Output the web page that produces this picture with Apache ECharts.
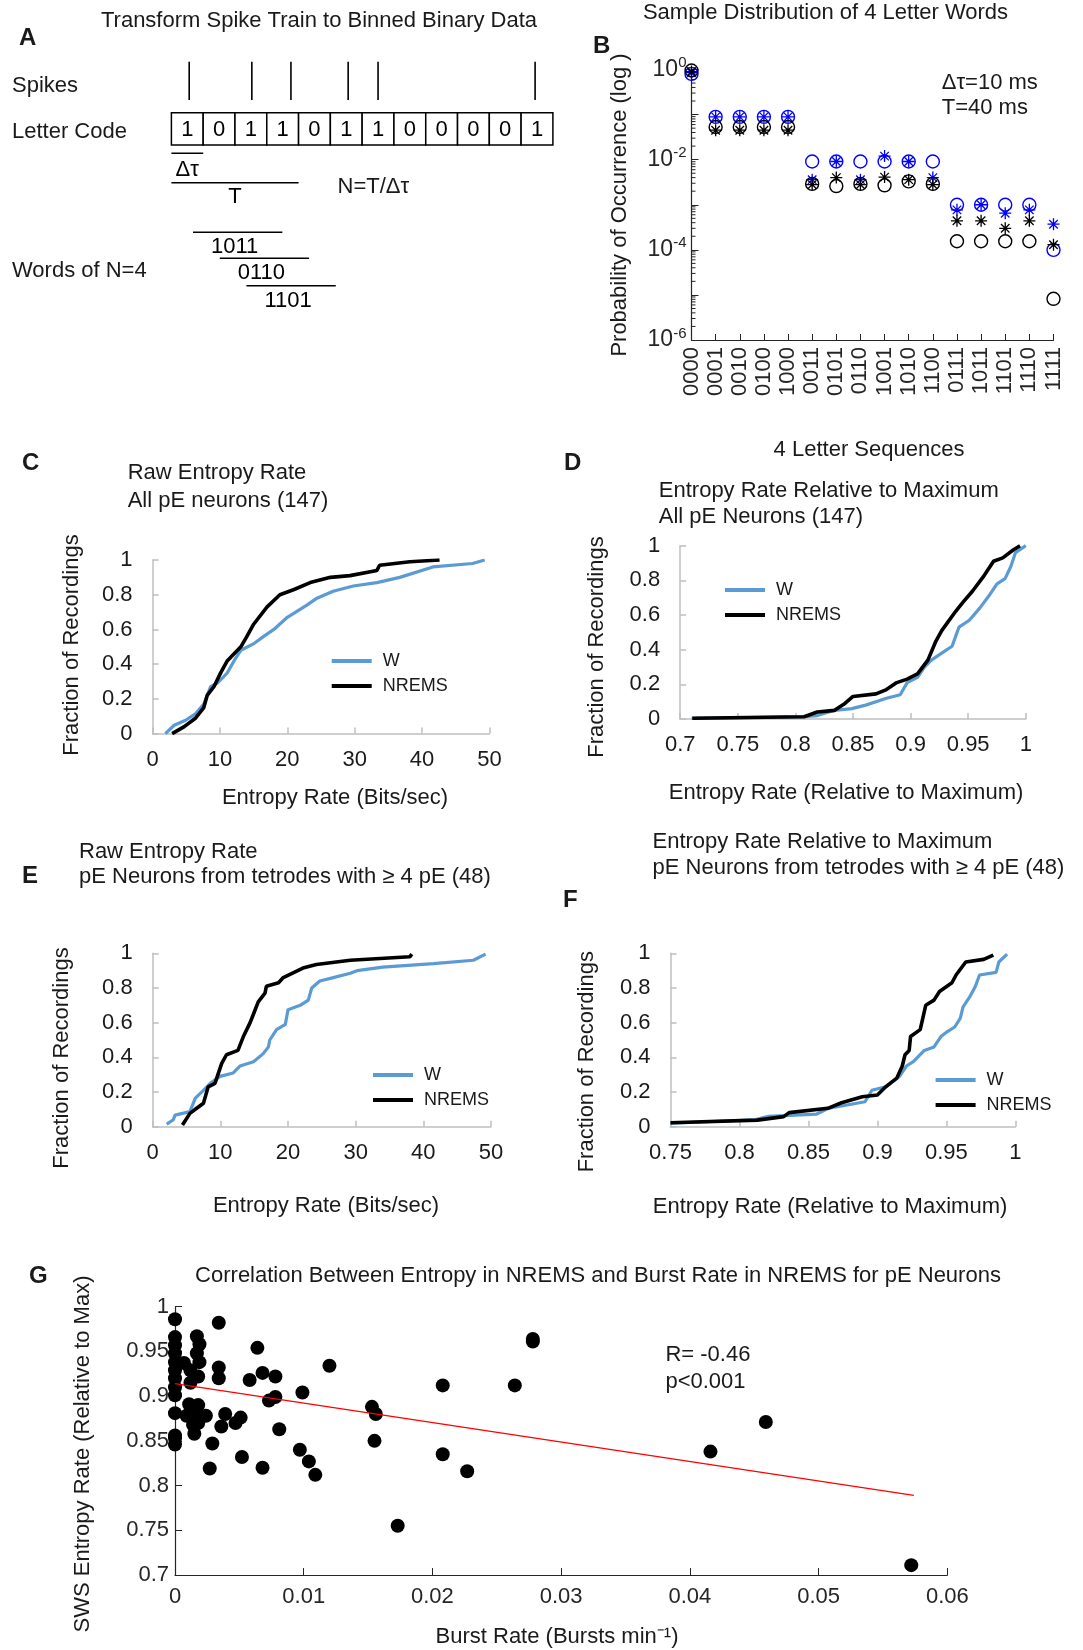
<!DOCTYPE html>
<html>
<head>
<meta charset="utf-8">
<script src="https://cdn.jsdelivr.net/npm/echarts@6/dist/echarts.min.js"></script>
<style>
html,body{margin:0;padding:0;background:#fff;}
#chart{width:1083px;height:1650px;}
</style>
</head>
<body>
<div id="chart"></div>
<script>
// ---------------- DATA ----------------
// Panel A: schematic (units of bins, Δτ = 1 bin)
const letterCode = [1,0,1,1,0,1,1,0,0,0,0,1];
const spikeTimes = [0.56, 2.53, 3.76, 5.56, 6.5, 11.44];
const binWidth = 1;          // Δτ
const wordLen = 4;           // T = N·Δτ
const words = ['1011','0110','1101'];
const wordStarts = [0.68, 1.52, 2.36];
const wordSpan = 2.81;

// Panel B: sample distribution of 4-letter words
const wordCats = ['0000','0001','0010','0100','1000','0011','0101','0110','1001','1010','1100','0111','1011','1101','1110','1111'];
const wCircle = [0.80, 0.089,0.089,0.089,0.089, 0.0091,0.0091,0.0091,0.0091,0.0091,0.0091, 0.001,0.001,0.001,0.001, 0.0001];
const wStar   = [0.85, 0.089,0.089,0.089,0.089, 0.0036,0.0091,0.0036,0.012,0.0091,0.004, 0.00077,0.001,0.00065,0.00077, 0.00037];
const nCircle = [0.95, 0.053,0.053,0.053,0.053, 0.0029,0.0026,0.0029,0.0027,0.0033,0.0029, 0.000155,0.000155,0.000155,0.000155, 0.0000082];
const nStar   = [0.90, 0.045,0.045,0.045,0.045, 0.0028,0.004,0.0028,0.0041,0.0036,0.0028, 0.00044,0.00044,0.0003,0.00044, 0.00013];
const logDecades = [-6,-5,-4,-3,-2,-1];
const logMinorSteps = [2,3,4,5,6,7,8,9];

// Panel C: raw entropy rate, all pE (147)
const cW = [[1.9,0],[3.2,0.048],[4.9,0.077],[6.4,0.115],[7.6,0.17],[8.6,0.27],[9.6,0.29],[11.1,0.35],[12.1,0.42],[13.1,0.48],[15.1,0.52],[16.5,0.56],[18,0.6],[20,0.67],[22.9,0.74],[24.4,0.78],[26.8,0.82],[29.8,0.85],[33.3,0.87],[36.7,0.9],[41.6,0.96],[47.5,0.98],[49.3,1]];
const cN = [[2.9,0],[4.7,0.04],[6.4,0.09],[7.6,0.15],[8.1,0.22],[9.1,0.27],[10.1,0.35],[11.1,0.42],[12.1,0.46],[13.1,0.5],[14,0.56],[15,0.63],[17,0.73],[18.9,0.8],[21,0.83],[23.4,0.87],[26.4,0.9],[29.3,0.91],[33.3,0.94],[33.7,0.97],[38.2,0.99],[42.6,1]];

// Panel D: relative entropy rate, all pE (147)
const dW = [[0.71,0.004],[0.8075,0.013],[0.819,0.02],[0.834,0.05],[0.849,0.06],[0.861,0.08],[0.87,0.1],[0.879,0.12],[0.891,0.14],[0.897,0.21],[0.906,0.24],[0.912,0.3],[0.918,0.34],[0.927,0.38],[0.936,0.42],[0.942,0.53],[0.951,0.57],[0.96,0.64],[0.969,0.72],[0.975,0.78],[0.982,0.81],[0.987,0.88],[0.991,0.96],[1,1]];
const dN = [[0.7105,0.004],[0.8075,0.013],[0.819,0.04],[0.834,0.05],[0.843,0.09],[0.85,0.13],[0.87,0.145],[0.879,0.17],[0.888,0.21],[0.897,0.23],[0.906,0.26],[0.915,0.34],[0.922,0.45],[0.927,0.51],[0.939,0.62],[0.945,0.67],[0.954,0.74],[0.963,0.82],[0.972,0.91],[0.98,0.93],[0.989,0.975],[0.995,1]];

// Panel E: raw entropy rate, tetrodes with >= 4 pE (48)
const eW = [[2.07,0.015],[3.05,0.04],[3.3,0.067],[5.5,0.087],[6.3,0.165],[7.5,0.21],[8.5,0.25],[9.95,0.29],[11.9,0.31],[12.9,0.35],[14.9,0.375],[16.3,0.42],[17.1,0.46],[17.3,0.5],[18.3,0.56],[19.6,0.59],[20,0.675],[21.8,0.7],[23,0.73],[23.5,0.8],[24.7,0.84],[26.7,0.86],[29.2,0.885],[30.2,0.9],[34,0.92],[41.5,0.94],[47.4,0.96],[49.2,0.995]];
const eN = [[4.4,0.01],[5.5,0.077],[6.5,0.106],[7.5,0.135],[8.2,0.23],[9.2,0.25],[10.2,0.365],[10.9,0.415],[12.6,0.44],[13.4,0.52],[14.4,0.6],[14.9,0.65],[15.6,0.72],[16.6,0.77],[16.8,0.81],[18.6,0.83],[19.3,0.86],[22.2,0.915],[24.2,0.935],[29.2,0.96],[38,0.98],[38.3,0.995]];

// Panel F: relative entropy rate, tetrodes with >= 4 pE (48)
const fW = [[0.75,0.02],[0.811,0.04],[0.821,0.06],[0.856,0.073],[0.864,0.105],[0.891,0.144],[0.896,0.21],[0.906,0.23],[0.916,0.29],[0.921,0.35],[0.926,0.375],[0.934,0.44],[0.941,0.46],[0.946,0.52],[0.951,0.55],[0.956,0.575],[0.96,0.625],[0.962,0.69],[0.967,0.75],[0.971,0.81],[0.974,0.875],[0.986,0.89],[0.988,0.95],[0.994,0.995]];
const fN = [[0.75,0.023],[0.813,0.038],[0.832,0.058],[0.836,0.081],[0.864,0.106],[0.874,0.138],[0.889,0.173],[0.9,0.183],[0.906,0.23],[0.914,0.28],[0.918,0.35],[0.92,0.415],[0.923,0.44],[0.924,0.52],[0.931,0.56],[0.935,0.7],[0.941,0.73],[0.945,0.78],[0.954,0.83],[0.957,0.875],[0.964,0.95],[0.977,0.965],[0.984,0.99]];

// Panel G: burst rate vs relative entropy (NREMS)
const gPoints = [[0,0.986],[0.0034,0.982],[0.0017,0.967],[0,0.966],[0.0019,0.958],[0,0.957],[0.0064,0.954],[0.0278,0.964],[0.0278,0.961],
[0,0.948],[0.0017,0.948],[0.0019,0.938],[0,0.938],[0.0007,0.937],[0.012,0.934],[0.0034,0.932],[0.0012,0.929],[0,0.929],[0.0068,0.926],[0.0018,0.922],[0.0078,0.922],[0,0.92],[0.0034,0.92],[0.0058,0.918],[0.0012,0.915],[0.0208,0.912],[0.0264,0.912],[0,0.91],[0.0099,0.904],[0,0.901],[0.0078,0.899],[0.0073,0.895],[0.0011,0.891],[0.0018,0.89],[0.0153,0.888],[0.0156,0.88],[0,0.881],[0.0009,0.878],[0.0015,0.881],[0.0024,0.878],[0.0039,0.88],[0.0051,0.876],[0.0047,0.87],[0.0018,0.87],[0.0036,0.866],[0.0014,0.868],[0.0015,0.858],[0,0.856],[0,0.853],[0,0.846],[0.0081,0.863],[0.0155,0.85],[0.0029,0.847],[0.0052,0.832],[0.0097,0.84],[0.0104,0.827],[0.0109,0.812],[0.0027,0.819],[0.0068,0.82],[0.0208,0.835],[0.0227,0.816],[0.0173,0.755],[0.0416,0.838],[0.0459,0.871],[0.0572,0.711]];
const gFit = [[0,0.914],[0.0574,0.789]];

// ---------------- STYLE / LAYOUT ----------------
const FONT = "'Liberation Sans', Arial, Helvetica, sans-serif";
const BLUE_W = '#5B9BD5';
const MAT_BLUE = '#0000FF';
const DARK = '#262626';
const LIGHT = '#BFBFBF';
const FS = 22;
// vertical rows in panel A (pixel rows of the schematic)
const rowY = {spikeTop:61.7, spikeBot:100, boxTop:112.7, boxBot:145, dt:153.3, T:182.7, words:[232.3,258.3,285.7], textGap:15};

const starPath = 'path://M0,-10L0,10M-10,0L10,0M-7.07,-7.07L7.07,7.07M-7.07,7.07L7.07,-7.07';

function txt(text, x, y, opts) {
  opts = opts || {};
  return {
    type: 'text', x: x, y: y, rotation: opts.rot || 0, silent: true,
    style: {
      text: text, fill: opts.color || '#1a1a1a',
      fontSize: opts.size || FS, fontFamily: FONT, fontWeight: opts.bold ? 'bold' : 'normal',
      align: opts.align || 'left', verticalAlign: 'middle'
    }
  };
}

function lightAxisX(gi, min, max, interval) {
  return {
    type: 'value', gridIndex: gi, min: min, max: max, interval: interval,
    axisLine: {show: true, lineStyle: {color: LIGHT, width: 1.5}},
    axisTick: {show: true, inside: true, length: 6, lineStyle: {color: LIGHT, width: 1.5}},
    axisLabel: {fontSize: FS, fontFamily: FONT, color: '#1a1a1a', margin: 15},
    splitLine: {show: false}
  };
}
function lightAxisY(gi) {
  return {
    type: 'value', gridIndex: gi, min: 0, max: 1, interval: 0.2,
    axisLine: {show: true, lineStyle: {color: LIGHT, width: 1.5}},
    axisTick: {show: true, inside: true, length: 6, lineStyle: {color: LIGHT, width: 1.5}},
    axisLabel: {fontSize: FS, fontFamily: FONT, color: '#1a1a1a', margin: 20},
    splitLine: {show: false}
  };
}
function cdfSeries(name, gi, data) {
  return {
    type: 'line', name: name, xAxisIndex: gi, yAxisIndex: gi, data: data,
    showSymbol: false, symbol: 'none', silent: true,
    color: name === 'W' ? BLUE_W : '#000',
    lineStyle: {width: name === 'W' ? 3.2 : 3.6, color: name === 'W' ? BLUE_W : '#000'},
    z: name === 'W' ? 2 : 3
  };
}
function legendAt(left, top) {
  return {
    data: ['W', 'NREMS'], orient: 'vertical', left: left, top: top,
    icon: 'rect', itemWidth: 40, itemHeight: 4, itemGap: 7, selectedMode: false,
    textStyle: {fontSize: 18, fontFamily: FONT, color: '#1a1a1a', padding: [0, 0, 0, 6]}
  };
}

// minor tick values of the log axis in panel B (axis decoration)
const logMinorTicks = [];
logDecades.forEach(e => logMinorSteps.forEach(k => logMinorTicks.push([k * Math.pow(10, e)])));

const chart = echarts.init(document.getElementById('chart'), null, {renderer: 'canvas'});

const option = {
  animation: false,
  backgroundColor: '#fff',
  grid: [
    {left: 171.4, top: 0, width: 381.5, height: 330},            // A
    {left: 691.5, top: 69.5, width: 362, height: 270.5},          // B
    {left: 152.6, top: 560, width: 336.8, height: 173.6},         // C
    {left: 680.2, top: 545.7, width: 345.6, height: 173.3},       // D
    {left: 152.7, top: 953.3, width: 338.3, height: 173.4},       // E
    {left: 670.5, top: 953.3, width: 344.9, height: 173.4},       // F
    {left: 175, top: 1306.7, width: 772.3, height: 268.3}         // G
  ].map(g => Object.assign({containLabel: false, outerBoundsMode: 'none'}, g)),
  xAxis: [
    {type: 'value', gridIndex: 0, min: 0, max: 12, show: false},
    {
      type: 'category', gridIndex: 1, data: wordCats, boundaryGap: false,
      axisLine: {show: true, lineStyle: {color: DARK, width: 1.2}},
      axisTick: {show: true, inside: true, length: 6, alignWithLabel: true, lineStyle: {color: DARK}},
      axisLabel: {rotate: 90, interval: 0, fontSize: FS, fontFamily: FONT, color: DARK, margin: 7},
      splitLine: {show: false}
    },
    lightAxisX(2, 0, 50, 10),
    lightAxisX(3, 0.7, 1, 0.05),
    lightAxisX(4, 0, 50, 10),
    lightAxisX(5, 0.75, 1, 0.05),
    {
      type: 'value', gridIndex: 6, min: 0, max: 0.06, interval: 0.01,
      axisLine: {show: true, lineStyle: {color: DARK, width: 1.2}},
      axisTick: {show: true, inside: true, length: 7, lineStyle: {color: DARK}},
      axisLabel: {fontSize: FS, fontFamily: FONT, color: DARK, margin: 11},
      splitLine: {show: false}
    }
  ],
  yAxis: [
    {type: 'value', gridIndex: 0, min: 0, max: 330, inverse: true, show: false},
    {
      type: 'log', gridIndex: 1, logBase: 10, min: 1e-6, max: 1, splitNumber: 6,
      axisLine: {show: true, lineStyle: {color: DARK, width: 1.2}},
      axisTick: {show: true, inside: true, length: 7, lineStyle: {color: DARK}},
      axisLabel: {
        fontSize: 23, fontFamily: FONT, color: DARK, margin: 5,
        formatter: function (v) {
          const e = Math.round(Math.log10(v));
          if (e % 2 !== 0) return '';
          return '10{sup|' + e + '}';
        },
        rich: {sup: {fontSize: 15, fontFamily: FONT, color: DARK, padding: [0, 0, 13, 0]}}
      },
      splitLine: {show: false}
    },
    lightAxisY(2), lightAxisY(3), lightAxisY(4), lightAxisY(5),
    {
      type: 'value', gridIndex: 6, min: 0.7, max: 1, interval: 0.05,
      axisLine: {show: true, lineStyle: {color: DARK, width: 1.2}},
      axisTick: {show: true, inside: true, length: 7, lineStyle: {color: DARK}},
      axisLabel: {fontSize: FS, fontFamily: FONT, color: DARK, margin: 6},
      splitLine: {show: false}
    }
  ],
  legend: [
    legendAt(326.7, 647),
    legendAt(720, 576),
    legendAt(368, 1061),
    legendAt(930.6, 1066)
  ],
  series: [
    // ---- Panel A ----
    {
      type: 'custom', xAxisIndex: 0, yAxisIndex: 0, silent: true,
      data: spikeTimes.map(t => [t]),
      renderItem: function (params, api) {
        const t = api.value(0);
        const p0 = api.coord([t, rowY.spikeTop]);
        const p1 = api.coord([t, rowY.spikeBot]);
        return {type: 'line', shape: {x1: p0[0], y1: p0[1], x2: p1[0], y2: p1[1]}, style: {stroke: '#000', lineWidth: 1.6}};
      }
    },
    {
      type: 'custom', xAxisIndex: 0, yAxisIndex: 0, silent: true,
      data: letterCode.map((b, i) => [i, b]),
      renderItem: function (params, api) {
        const i = api.value(0);
        const p0 = api.coord([i * binWidth, rowY.boxTop]);
        const p1 = api.coord([(i + 1) * binWidth, rowY.boxBot]);
        return {
          type: 'group', children: [
            {type: 'rect', shape: {x: p0[0], y: p0[1], width: p1[0] - p0[0], height: p1[1] - p0[1]}, style: {fill: '#fff', stroke: '#000', lineWidth: 1.5}},
            {type: 'text', style: {text: String(api.value(1)), x: (p0[0] + p1[0]) / 2, y: (p0[1] + p1[1]) / 2 + 1, align: 'center', verticalAlign: 'middle', fontSize: FS, fontFamily: FONT, fill: '#000'}}
          ]
        };
      }
    },
    {
      type: 'custom', xAxisIndex: 0, yAxisIndex: 0, silent: true,
      data: [[0, binWidth, 0], [0, wordLen * binWidth, 1]],
      renderItem: function (params, api) {
        const k = api.value(2);
        const y = k === 0 ? rowY.dt : rowY.T;
        const p0 = api.coord([api.value(0), y]);
        const p1 = api.coord([api.value(1), y]);
        const label = k === 0 ? 'Δτ' : 'T';
        return {
          type: 'group', children: [
            {type: 'line', shape: {x1: p0[0], y1: p0[1], x2: p1[0], y2: p1[1]}, style: {stroke: '#000', lineWidth: 1.5}},
            {type: 'text', style: {text: label, x: (p0[0] + p1[0]) / 2, y: p0[1] + (k === 0 ? 17 : 14), align: 'center', verticalAlign: 'middle', fontSize: FS, fontFamily: FONT, fill: '#000'}}
          ]
        };
      }
    },
    {
      type: 'custom', xAxisIndex: 0, yAxisIndex: 0, silent: true,
      data: words.map((w, i) => [wordStarts[i], wordStarts[i] + wordSpan, i]),
      renderItem: function (params, api) {
        const i = api.value(2);
        const y = rowY.words[i];
        const p0 = api.coord([api.value(0), y]);
        const p1 = api.coord([api.value(1), y]);
        return {
          type: 'group', children: [
            {type: 'line', shape: {x1: p0[0], y1: p0[1], x2: p1[0], y2: p1[1]}, style: {stroke: '#000', lineWidth: 1.5}},
            {type: 'text', style: {text: words[i], x: (p0[0] + p1[0]) / 2 - 3, y: p0[1] + rowY.textGap, align: 'center', verticalAlign: 'middle', fontSize: FS, fontFamily: FONT, fill: '#000'}}
          ]
        };
      }
    },
    // ---- Panel B ----
    {
      type: 'custom', xAxisIndex: 1, yAxisIndex: 1, silent: true, clip: false,
      data: logMinorTicks,
      encode: {y: 0},
      renderItem: function (params, api) {
        const p = api.coord([0, api.value(0)]);
        return {type: 'line', shape: {x1: p[0], y1: p[1], x2: p[0] + 4, y2: p[1]}, style: {stroke: DARK, lineWidth: 1}};
      }
    },
    {type: 'scatter', name: 'W circles', xAxisIndex: 1, yAxisIndex: 1, data: wCircle, symbol: 'circle', symbolSize: 13, silent: true,
     itemStyle: {color: 'rgba(0,0,0,0)', borderColor: MAT_BLUE, borderWidth: 1.4, opacity: 1}, z: 2},
    {type: 'scatter', name: 'W stars', xAxisIndex: 1, yAxisIndex: 1, data: wStar, symbol: starPath, symbolSize: 12, silent: true,
     itemStyle: {color: 'rgba(0,0,0,0)', borderColor: MAT_BLUE, borderWidth: 1.3, opacity: 1}, z: 2},
    {type: 'scatter', name: 'N circles', xAxisIndex: 1, yAxisIndex: 1, data: nCircle, symbol: 'circle', symbolSize: 13, silent: true,
     itemStyle: {color: 'rgba(0,0,0,0)', borderColor: '#000', borderWidth: 1.4, opacity: 1}, z: 3},
    {type: 'scatter', name: 'N stars', xAxisIndex: 1, yAxisIndex: 1, data: nStar, symbol: starPath, symbolSize: 12, silent: true,
     itemStyle: {color: 'rgba(0,0,0,0)', borderColor: '#000', borderWidth: 1.3, opacity: 1}, z: 3},
    // ---- Panels C-F ----
    cdfSeries('W', 2, cW), cdfSeries('NREMS', 2, cN),
    cdfSeries('W', 3, dW), cdfSeries('NREMS', 3, dN),
    cdfSeries('W', 4, eW), cdfSeries('NREMS', 4, eN),
    cdfSeries('W', 5, fW), cdfSeries('NREMS', 5, fN),
    // ---- Panel G ----
    {type: 'scatter', name: 'cells', xAxisIndex: 6, yAxisIndex: 6, data: gPoints, symbol: 'circle', symbolSize: 14, silent: true,
     itemStyle: {color: '#000', opacity: 1}, z: 2},
    {type: 'line', name: 'fit', xAxisIndex: 6, yAxisIndex: 6, data: gFit, showSymbol: false, symbol: 'none', silent: true,
     lineStyle: {color: '#FF0000', width: 1.3}, z: 3}
  ],
  graphic: [
    // Panel A texts
    txt('Transform Spike Train to Binned Binary Data', 319, 20.7, {align: 'center'}),
    txt('A', 19, 38.5, {bold: true, size: 24}),
    txt('Spikes', 12, 86),
    txt('Letter Code', 12, 131.7),
    txt('N=T/Δτ', 337.5, 186.7),
    txt('Words of N=4', 12, 270.7),
    // Panel B texts
    txt('Sample Distribution of 4 Letter Words', 825.5, 13.3, {align: 'center'}),
    txt('B', 593, 46.7, {bold: true, size: 24}),
    txt('Probability of Occurrence (log )', 620, 205, {align: 'center', rot: Math.PI / 2}),
    txt('Δτ=10 ms', 941.7, 82.7),
    txt('T=40 ms', 941.7, 108.3),
    // Panel C texts
    txt('C', 22, 463, {bold: true, size: 24}),
    txt('Raw Entropy Rate', 127.7, 473),
    txt('All pE neurons (147)', 127.7, 501),
    txt('Entropy Rate (Bits/sec)', 335, 798, {align: 'center'}),
    txt('Fraction of Recordings', 71.7, 645, {align: 'center', rot: Math.PI / 2}),
    // Panel D texts
    txt('D', 564, 463, {bold: true, size: 24}),
    txt('4 Letter Sequences', 869, 450, {align: 'center'}),
    txt('Entropy Rate Relative to Maximum', 658.8, 490.7),
    txt('All pE Neurons (147)', 658.8, 517.3),
    txt('Entropy Rate (Relative to Maximum)', 846, 793, {align: 'center'}),
    txt('Fraction of Recordings', 597, 647, {align: 'center', rot: Math.PI / 2}),
    // Panel E texts
    txt('E', 22, 876.7, {bold: true, size: 24}),
    txt('Raw Entropy Rate', 79, 851.7),
    txt('pE Neurons from tetrodes with ≥ 4 pE (48)', 79, 877.3),
    txt('Entropy Rate (Bits/sec)', 326, 1206, {align: 'center'}),
    txt('Fraction of Recordings', 61.7, 1058, {align: 'center', rot: Math.PI / 2}),
    // Panel F texts
    txt('F', 563, 900, {bold: true, size: 24}),
    txt('Entropy Rate Relative to Maximum', 652.5, 841.7),
    txt('pE Neurons from tetrodes with ≥ 4 pE (48)', 652.5, 868.3),
    txt('Entropy Rate (Relative to Maximum)', 830, 1206.7, {align: 'center'}),
    txt('Fraction of Recordings', 586.7, 1061.7, {align: 'center', rot: Math.PI / 2}),
    // Panel G texts
    txt('G', 29, 1276.7, {bold: true, size: 24}),
    txt('Correlation Between Entropy in NREMS and Burst Rate in NREMS for pE Neurons', 598, 1276, {align: 'center'}),
    txt('R= -0.46', 665.4, 1355),
    txt('p<0.001', 665.4, 1381.7),
    txt('Burst Rate (Bursts min⁻¹)', 557, 1636.7, {align: 'center'}),
    txt('SWS Entropy Rate (Relative to Max)', 82.6, 1454, {align: 'center', rot: Math.PI / 2})
  ]
};

chart.setOption(option);
</script>
</body>
</html>
